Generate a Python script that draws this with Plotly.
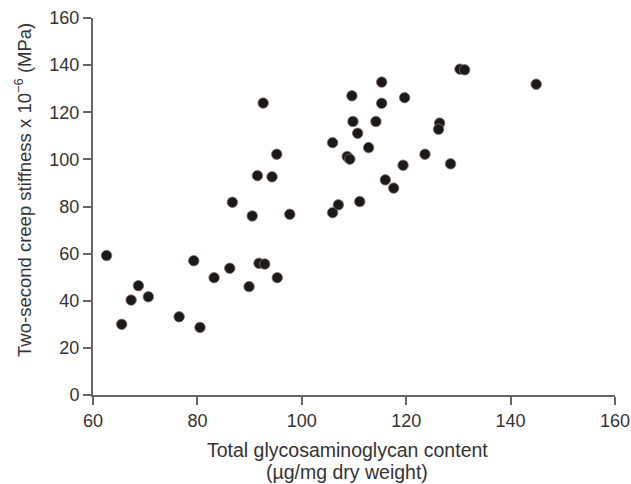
import plotly.graph_objects as go

gag_content = [62.6, 65.5, 67.3, 68.7, 70.6, 76.5, 80.5, 79.3, 83.2, 86.2, 89.9, 91.8, 92.9, 95.3,
               92.6, 95.2, 91.5, 94.3, 86.7, 90.5, 97.7,
               130.3, 131.2, 115.3, 109.6, 115.3, 119.7, 109.8, 114.2, 110.7, 105.9, 112.8,
               108.7, 109.2, 126.4, 126.2, 123.6, 128.5, 119.4, 116.0, 117.6, 111.1, 107.0, 105.9,
               144.9]
creep_stiffness = [59.2, 30.0, 40.3, 46.4, 41.7, 33.2, 28.7, 57.0, 49.8, 53.8, 46.0, 55.9, 55.6, 49.8,
                   123.9, 102.2, 93.1, 92.6, 81.8, 76.0, 76.7,
                   138.3, 138.0, 132.8, 127.0, 123.8, 126.2, 116.1, 116.1, 111.1, 107.1, 105.0,
                   101.2, 100.1, 115.4, 112.8, 102.2, 98.1, 97.5, 91.3, 87.8, 82.1, 80.7, 77.4,
                   131.9]
x_ticks = [60, 80, 100, 120, 140, 160]
y_ticks = [0, 20, 40, 60, 80, 100, 120, 140, 160]
x_title_lines = ["Total glycosaminoglycan content", "(µg/mg dry weight)"]
y_title = "Two-second creep stiffness x 10<sup>−6</sup> (MPa)"

FONT = "Liberation Sans, Arial"

fig = go.Figure(go.Scatter(
    x=gag_content, y=creep_stiffness, mode="markers",
    marker=dict(size=10.5, color="#1a1a1a", line=dict(width=0.8, color="#8a6e62")),
))

axis_common = dict(showline=True, linecolor="#666", linewidth=2, ticks="outside",
                   ticklen=8, tickcolor="#666", tickwidth=1.5, showgrid=False, zeroline=False,
                   automargin=False,
                   tickfont=dict(family=FONT, size=18, color="#333"))

# plot area: left 93px, bottom 395px, width 522px, height 377px
def py(pix):
    return (395 - pix) / 377

fig.update_layout(
    width=631, height=484,
    margin=dict(l=93, r=16, t=18, b=89),
    paper_bgcolor="white", plot_bgcolor="white",
    showlegend=False,
    xaxis=dict(range=[60, 160], tickvals=x_ticks, **axis_common),
    yaxis=dict(range=[0, 160], tickvals=y_ticks, **axis_common),
    annotations=[
        dict(text=x_title_lines[0], xref="paper", yref="paper", x=0.487, y=py(450),
             xanchor="center", yanchor="middle", showarrow=False,
             font=dict(family=FONT, size=19.5, color="#333")),
        dict(text=x_title_lines[1], xref="paper", yref="paper", x=0.487, y=py(472),
             xanchor="center", yanchor="middle", showarrow=False,
             font=dict(family=FONT, size=19.5, color="#333")),
        dict(text=y_title, xref="paper", yref="paper", x=-0.134, y=0.544,
             xanchor="center", yanchor="middle", textangle=-90, showarrow=False,
             font=dict(family=FONT, size=18.5, color="#333")),
    ],
)

fig.write_html("out.html")
